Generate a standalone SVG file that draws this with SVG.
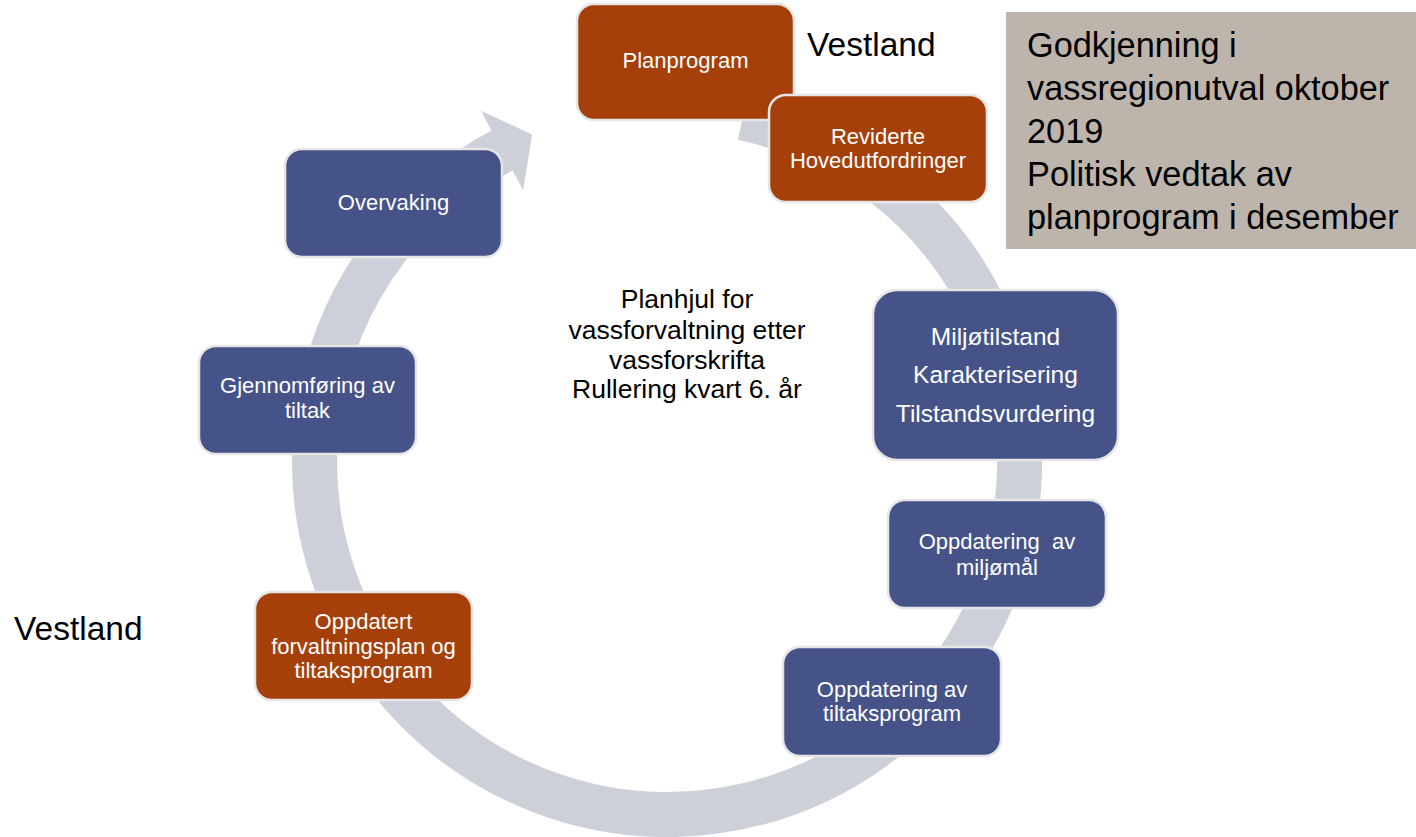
<svg xmlns="http://www.w3.org/2000/svg" width="1416" height="837" viewBox="0 0 1416 837">
<style>
.box{stroke:#E6E6E6;stroke-width:2.5}
.blue{fill:#465388}
.orange{fill:#A5400A}
.bt{font-family:"Liberation Sans",Arial,sans-serif;font-size:22px;fill:#FFFFFF;text-anchor:middle}
.big{font-size:24.5px}
.dark{font-family:"Liberation Sans",Arial,sans-serif;fill:#000000}
</style>
<rect width="1416" height="837" fill="#FFFFFF"/>
<g id="connectors">
  <path d="M 742.7 117.7 A 352.5 352.5 0 1 1 502.1 150.5" fill="none" stroke="#CDD0D8" stroke-width="45"/>
  <polygon points="481,110.7 532.1,134.6 523.2,190.3" fill="#CDD0D8"/>
</g>
<g id="planprogram">
  <rect class="box orange" x="577" y="4" width="217" height="116" rx="17"/>
  <text class="bt" x="685.5" y="68">Planprogram</text>
</g>
<g id="reviderte">
  <rect class="box orange" x="769" y="95" width="218" height="107" rx="17"/>
  <text class="bt" x="878" y="144">Reviderte</text>
  <text class="bt" x="878" y="168">Hovedutfordringer</text>
</g>
<g id="miljotilstand">
  <rect class="box blue" x="873" y="290" width="245" height="170" rx="24"/>
  <text class="bt big" x="995.5" y="345">Miljøtilstand</text>
  <text class="bt big" x="995.5" y="383">Karakterisering</text>
  <text class="bt big" x="995.5" y="422">Tilstandsvurdering</text>
</g>
<g id="miljomal">
  <rect class="box blue" x="888" y="500" width="218" height="108" rx="17"/>
  <text class="bt" x="997" y="549" style="white-space:pre">Oppdatering  av</text>
  <text class="bt" x="997" y="575">miljømål</text>
</g>
<g id="tiltaksprogram">
  <rect class="box blue" x="783" y="647" width="218" height="109" rx="17"/>
  <text class="bt" x="892" y="697">Oppdatering av</text>
  <text class="bt" x="892" y="721">tiltaksprogram</text>
</g>
<g id="forvaltningsplan">
  <rect class="box orange" x="255" y="592" width="217" height="108" rx="17"/>
  <text class="bt" x="363.5" y="629">Oppdatert</text>
  <text class="bt" x="363.5" y="654">forvaltningsplan og</text>
  <text class="bt" x="363.5" y="678">tiltaksprogram</text>
</g>
<g id="gjennomforing">
  <rect class="box blue" x="199" y="346" width="217" height="108" rx="17"/>
  <text class="bt" x="307.5" y="393">Gjennomføring av</text>
  <text class="bt" x="307.5" y="418">tiltak</text>
</g>
<g id="overvaking">
  <rect class="box blue" x="285" y="149" width="217" height="108" rx="17"/>
  <text class="bt" x="393.5" y="210">Overvaking</text>
</g>
<g id="center-label">
  <text class="dark" font-size="26.5" text-anchor="middle" x="687" y="308">Planhjul for</text>
  <text class="dark" font-size="26.5" text-anchor="middle" x="687" y="339">vassforvaltning etter</text>
  <text class="dark" font-size="26.5" text-anchor="middle" x="687" y="369">vassforskrifta</text>
  <text class="dark" font-size="26.5" text-anchor="middle" x="687" y="398">Rullering kvart 6. år</text>
</g>
<g id="vestland-top">
  <text class="dark" font-size="33.5" x="807" y="56">Vestland</text>
</g>
<g id="vestland-left">
  <text class="dark" font-size="33.5" x="14" y="640">Vestland</text>
</g>
<g id="godkjenning">
  <rect x="1006" y="12" width="410" height="237" fill="#BDB5AC"/>
  <text class="dark" font-size="34.3" x="1027" y="57">Godkjenning i</text>
  <text class="dark" font-size="34.3" x="1027" y="100">vassregionutval oktober</text>
  <text class="dark" font-size="34.3" x="1027" y="143">2019</text>
  <text class="dark" font-size="34.3" x="1027" y="186">Politisk vedtak av</text>
  <text class="dark" font-size="34.3" x="1027" y="229">planprogram i desember</text>
</g>
</svg>
